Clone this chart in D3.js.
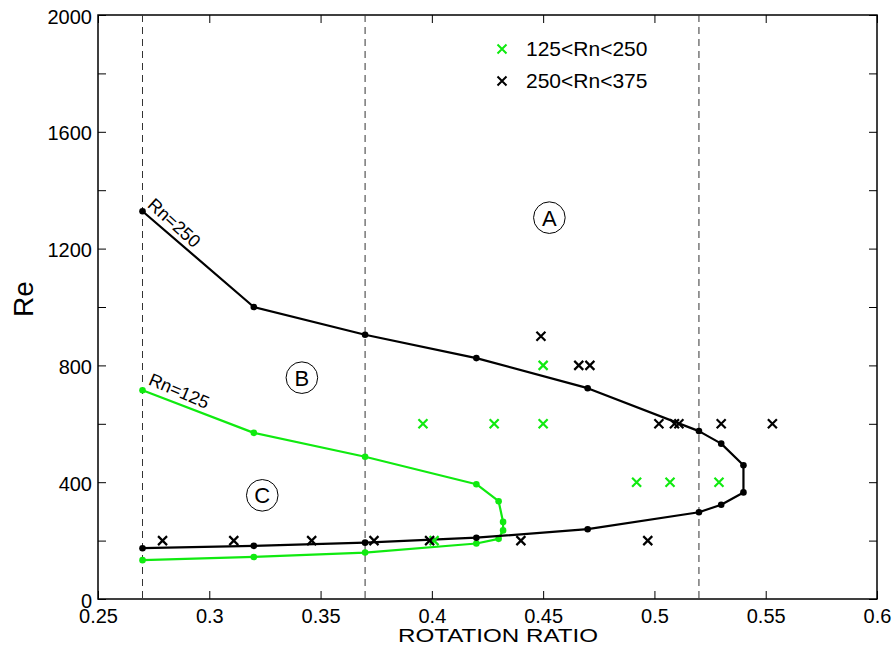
<!DOCTYPE html>
<html>
<head>
<meta charset="utf-8">
<script src="https://cdn.jsdelivr.net/npm/d3@7"></script>
<style>
  body { margin: 0; background: #fff; }
  text { font-family: "Liberation Sans", Arial, sans-serif; }
</style>
</head>
<body>
<div id="chart"></div>
<script>
  var width = 894,
      height = 652;

  var green = "#10ea10";

  // Rn = 250 neutral curve (ratio, Re)
  var rn250 = [
    [0.27, 1328], [0.32, 1000], [0.37, 905], [0.42, 825], [0.47, 722],
    [0.52, 575], [0.53, 532], [0.54, 458], [0.54, 365], [0.53, 323],
    [0.52, 297], [0.47, 239], [0.42, 210], [0.37, 193], [0.32, 182], [0.27, 174]
  ];

  // Rn = 125 neutral curve
  var rn125 = [
    [0.27, 715], [0.32, 569], [0.37, 487], [0.42, 393], [0.43, 335],
    [0.432, 264], [0.432, 235], [0.43, 206], [0.42, 190], [0.37, 159],
    [0.32, 144], [0.27, 133]
  ];

  // experiments, 125<Rn<250
  var expLow = [
    [0.396, 600], [0.428, 600], [0.45, 600], [0.45, 800],
    [0.492, 400], [0.507, 400], [0.529, 400], [0.401, 200]
  ];

  // experiments, 250<Rn<375
  var expHigh = [
    [0.449, 900], [0.466, 800], [0.471, 800], [0.502, 600], [0.509, 600],
    [0.511, 600], [0.53, 600], [0.553, 600], [0.279, 200], [0.311, 200],
    [0.346, 200], [0.374, 200], [0.399, 200], [0.44, 200], [0.497, 200]
  ];

  var dashedAt = [0.27, 0.37, 0.52];
  var xTicks = [0.25, 0.3, 0.35, 0.4, 0.45, 0.5, 0.55, 0.6];
  var yTicks = [0, 200, 400, 600, 800, 1000, 1200, 1400, 1600, 1800, 2000];
  var yLabels = [0, 400, 800, 1200, 1600, 2000];

  var regions = [
    { name: "A", x: 0.4528, y: 1306 },
    { name: "B", x: 0.3416, y: 758 },
    { name: "C", x: 0.3238, y: 355 }
  ];

  var margin = { left: 98, right: 17, top: 15, bottom: 53 };
  var x = d3.scaleLinear().domain([0.25, 0.6]).range([margin.left, width - margin.right]);
  var y = d3.scaleLinear().domain([0, 2000]).range([height - margin.bottom, margin.top]);

  var svg = d3.select("#chart")
    .append("svg")
    .attr("width", width)
    .attr("height", height);

  // axes box with inward ticks
  var tickLen = 8;
  var fmt = function(d) { return d; };

  svg.append("g")
    .attr("transform", "translate(0," + y(0) + ")")
    .call(d3.axisBottom(x).tickValues(xTicks).tickSizeInner(-tickLen).tickSizeOuter(0).tickPadding(10).tickFormat(fmt))
    .call(function(g) { g.select(".domain").remove(); });

  svg.append("g")
    .attr("transform", "translate(0," + y(2000) + ")")
    .call(d3.axisTop(x).tickValues(xTicks).tickSizeInner(-tickLen).tickSizeOuter(0).tickFormat(""))
    .call(function(g) { g.select(".domain").remove(); });

  var yAxis = svg.append("g")
    .attr("transform", "translate(" + x(0.25) + ",0)")
    .call(d3.axisLeft(y).tickValues(yTicks).tickSizeInner(-tickLen).tickSizeOuter(0).tickPadding(6)
      .tickFormat(function(d) { return yLabels.indexOf(d) >= 0 ? d : ""; }))
    .call(function(g) { g.select(".domain").remove(); });
  yAxis.selectAll(".tick text").attr("dy", "0.4em");

  svg.append("g")
    .attr("transform", "translate(" + x(0.6) + ",0)")
    .call(d3.axisRight(y).tickValues(yTicks).tickSizeInner(-tickLen).tickSizeOuter(0).tickFormat(""))
    .call(function(g) { g.select(".domain").remove(); });

  svg.selectAll(".tick line").attr("stroke", "#000").attr("stroke-width", 1);
  svg.selectAll(".tick text")
    .attr("fill", "#000")
    .style("font-size", "20px")
    .style("font-family", "'Liberation Sans', Arial, sans-serif");

  svg.append("rect")
    .attr("x", x(0.25))
    .attr("y", y(2000))
    .attr("width", x(0.6) - x(0.25))
    .attr("height", y(0) - y(2000))
    .attr("fill", "none")
    .attr("stroke", "#000")
    .attr("stroke-width", 1.5);

  // dashed guide lines
  svg.selectAll(".guide")
    .data(dashedAt)
    .enter().append("line")
    .attr("class", "guide")
    .attr("x1", function(d) { return x(d); })
    .attr("x2", function(d) { return x(d); })
    .attr("y1", y(2000))
    .attr("y2", y(0))
    .attr("stroke", "#333")
    .attr("stroke-width", 1)
    .attr("stroke-dasharray", "7,5");

  var line = d3.line()
    .x(function(d) { return x(d[0]); })
    .y(function(d) { return y(d[1]); });

  function curve(data, color) {
    svg.append("path")
      .datum(data)
      .attr("d", line)
      .attr("fill", "none")
      .attr("stroke", color)
      .attr("stroke-width", 2.2)
      .attr("stroke-linejoin", "round");

    svg.append("g").selectAll("circle")
      .data(data)
      .enter().append("circle")
      .attr("cx", function(d) { return x(d[0]); })
      .attr("cy", function(d) { return y(d[1]); })
      .attr("r", 3.3)
      .attr("fill", color);
  }

  curve(rn125, green);
  curve(rn250, "#000");

  function crosses(data, color) {
    var s = 4.5;
    svg.append("g").selectAll("path")
      .data(data)
      .enter().append("path")
      .attr("d", function(d) {
        var cx = x(d[0]), cy = y(d[1]);
        return "M" + (cx - s) + "," + (cy - s) + "L" + (cx + s) + "," + (cy + s) +
               "M" + (cx - s) + "," + (cy + s) + "L" + (cx + s) + "," + (cy - s);
      })
      .attr("stroke", color)
      .attr("stroke-width", 2.2)
      .attr("fill", "none");
  }

  crosses(expLow, green);
  crosses(expHigh, "#000");

  // curve labels
  svg.append("text")
    .attr("transform", "translate(" + (x(0.27) + 4) + "," + (y(1328) - 5) + ") rotate(42)")
    .style("font-size", "18px")
    .text("Rn=250");

  svg.append("text")
    .attr("transform", "translate(" + (x(0.27) + 5) + "," + (y(715) - 6) + ") rotate(23)")
    .style("font-size", "18px")
    .text("Rn=125");

  // region markers
  var reg = svg.selectAll(".region")
    .data(regions)
    .enter().append("g")
    .attr("class", "region")
    .attr("transform", function(d) { return "translate(" + x(d.x) + "," + y(d.y) + ")"; });

  reg.append("circle")
    .attr("r", 15.8)
    .attr("fill", "none")
    .attr("stroke", "#000")
    .attr("stroke-width", 1);

  reg.append("text")
    .attr("text-anchor", "middle")
    .attr("dy", "0.36em")
    .style("font-size", "22px")
    .text(function(d) { return d.name; });

  // legend
  var legend = [
    { label: "125<Rn<250", color: green },
    { label: "250<Rn<375", color: "#000" }
  ];

  var lg = svg.selectAll(".legend")
    .data(legend)
    .enter().append("g")
    .attr("class", "legend")
    .attr("transform", function(d, i) { return "translate(502," + (49 + i * 32) + ")"; });

  lg.append("path")
    .attr("d", "M-4.5,-4.5L4.5,4.5M-4.5,4.5L4.5,-4.5")
    .attr("stroke", function(d) { return d.color; })
    .attr("stroke-width", 2);

  lg.append("text")
    .attr("x", 24)
    .attr("dy", "0.35em")
    .style("font-size", "21px")
    .text(function(d) { return d.label; });

  // axis titles
  svg.append("text")
    .attr("x", 498)
    .attr("y", 642)
    .attr("text-anchor", "middle")
    .attr("textLength", 200)
    .attr("lengthAdjust", "spacingAndGlyphs")
    .style("font-size", "18px")
    .text("ROTATION RATIO");

  svg.append("text")
    .attr("transform", "translate(33,299) rotate(-90)")
    .attr("text-anchor", "middle")
    .style("font-size", "28px")
    .text("Re");
</script>
</body>
</html>
